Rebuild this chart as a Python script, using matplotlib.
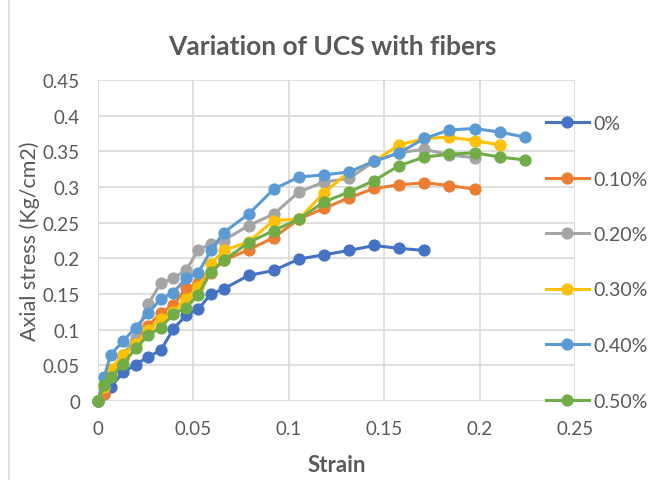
import matplotlib
matplotlib.use("Agg")
import matplotlib.pyplot as plt
from matplotlib.lines import Line2D

plt.rcParams['font.family'] = ['Lato', 'DejaVu Sans']

labels = ["0%", "0.10%", "0.20%", "0.30%", "0.40%", "0.50%"]
colors = ["#4472C4", "#ED7D31", "#A5A5A5", "#FFC000", "#5B9BD5", "#70AD47"]

strain_base = [0, 0.0033, 0.0066, 0.0132, 0.0197, 0.0263, 0.0329, 0.0395, 0.0461,
               0.0526, 0.0592, 0.0658, 0.0789, 0.0921, 0.1053, 0.1184, 0.1316,
               0.1447, 0.1579, 0.1711, 0.1842, 0.1974, 0.2105, 0.2237]

stress_0 = [0, 0.01, 0.02, 0.04, 0.051, 0.062, 0.071, 0.101, 0.12, 0.129, 0.15,
            0.157, 0.176, 0.183, 0.199, 0.205, 0.211, 0.218, 0.214, 0.211]
stress_10 = [0, 0.01, 0.035, 0.06, 0.085, 0.105, 0.124, 0.134, 0.158, 0.165, 0.18,
             0.197, 0.212, 0.229, 0.255, 0.27, 0.285, 0.298, 0.303, 0.306, 0.302, 0.297]
stress_20 = [0, 0.02, 0.04, 0.065, 0.089, 0.136, 0.165, 0.172, 0.183, 0.212, 0.22,
             0.225, 0.246, 0.262, 0.293, 0.307, 0.312, 0.336, 0.348, 0.353, 0.345, 0.341]
stress_30 = [0, 0.02, 0.045, 0.065, 0.08, 0.1, 0.115, 0.125, 0.143, 0.16, 0.192,
             0.211, 0.223, 0.253, 0.255, 0.292, 0.321, 0.336, 0.359, 0.368, 0.370,
             0.365, 0.359]
stress_40 = [0, 0.034, 0.065, 0.084, 0.103, 0.123, 0.143, 0.152, 0.172, 0.18, 0.211,
             0.236, 0.262, 0.297, 0.314, 0.317, 0.321, 0.336, 0.348, 0.368, 0.38,
             0.382, 0.377, 0.37]
stress_50 = [0, 0.022, 0.033, 0.052, 0.074, 0.092, 0.103, 0.122, 0.131, 0.149, 0.181,
             0.197, 0.222, 0.239, 0.255, 0.279, 0.293, 0.309, 0.33, 0.342, 0.346,
             0.348, 0.342, 0.338]

series = [stress_0, stress_10, stress_20, stress_30, stress_40, stress_50]

x_ticks = [0, 0.05, 0.1, 0.15, 0.2, 0.25]
x_ticklabels = ["0", "0.05", "0.1", "0.15", "0.2", "0.25"]
y_ticks = [0, 0.05, 0.1, 0.15, 0.2, 0.25, 0.3, 0.35, 0.4, 0.45]
y_ticklabels = ["0", "0.05", "0.1", "0.15", "0.2", "0.25", "0.3", "0.35", "0.4", "0.45"]

W, H = 670, 481
fig = plt.figure(figsize=(W / 100, H / 100), dpi=100)
fig.patch.set_facecolor("white")
fig.add_artist(Line2D([9 / W, 9 / W], [0, 1], transform=fig.transFigure,
                      color="#d9d9d9", linewidth=1.2))

ax = fig.add_axes([98 / W, 1 - 402 / H, (575 - 98) / W, (402 - 81) / H])

for vals, c, lab in zip(series, colors, labels):
    ax.plot(strain_base[:len(vals)], vals, color=c, marker="o", markersize=7.8,
            linewidth=2.2, label=lab, clip_on=False, zorder=3)

ax.set_xlim(0, 0.25)
ax.set_ylim(0, 0.45)
ax.set_xticks(x_ticks)
ax.set_xticklabels(x_ticklabels)
ax.set_yticks(y_ticks)
ax.set_yticklabels(y_ticklabels)
ax.grid(True, color="#d9d9d9", linewidth=1.2, zorder=0)
ax.set_axisbelow(True)
for s in ax.spines.values():
    s.set_visible(False)
ax.tick_params(length=0, labelsize=13.5, colors="#595959")
ax.tick_params(axis="y", pad=13)
ax.tick_params(axis="x", pad=14)

ax.set_xlabel("Strain", fontsize=16, fontweight="bold", color="#595959", labelpad=12)
ax.set_ylabel("Axial stress (Kg/cm2)", fontsize=15.5, color="#595959", labelpad=2)

fig.text(332 / W, 1 - 47 / H, "Variation of UCS with fibers", ha="center", va="center",
         fontsize=19, fontweight="bold", color="#595959")

leg = ax.legend(loc="upper left", bbox_to_anchor=(546 / W, 1 - 116 / H),
                bbox_transform=fig.transFigure, frameon=False, fontsize=14,
                labelspacing=1.98, handlelength=2.2, handletextpad=0.22,
                borderaxespad=0, borderpad=0)
for t in leg.get_texts():
    t.set_color("#595959")

fig.savefig("out.png", dpi=100)
